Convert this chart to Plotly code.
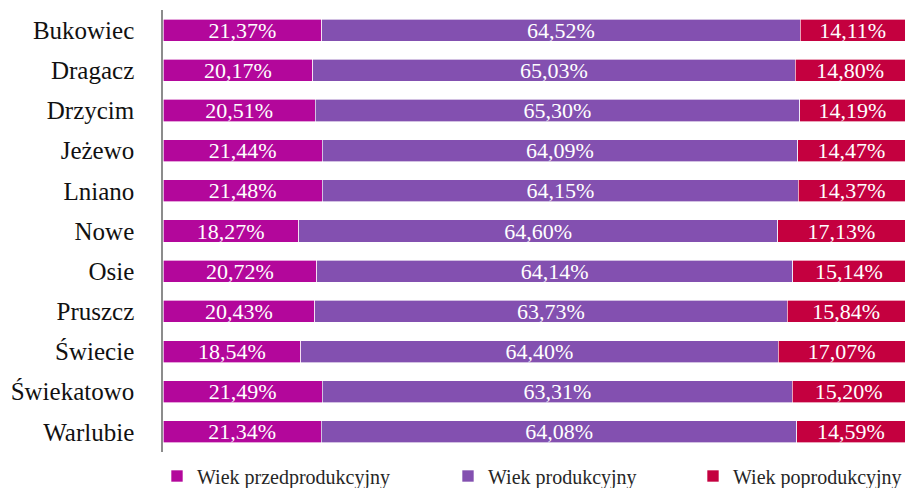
import plotly.graph_objects as go

gminy = ["Bukowiec", "Dragacz", "Drzycim", "Jeżewo", "Lniano", "Nowe", "Osie",
         "Pruszcz", "Świecie", "Świekatowo", "Warlubie"]
przed = [21.37, 20.17, 20.51, 21.44, 21.48, 18.27, 20.72, 20.43, 18.54, 21.49, 21.34]
prod = [64.52, 65.03, 65.30, 64.09, 64.15, 64.60, 64.14, 63.73, 64.40, 63.31, 64.08]
poprod = [14.11, 14.80, 14.19, 14.47, 14.37, 17.13, 15.14, 15.84, 17.07, 15.20, 14.59]
series_names = ["Wiek przedprodukcyjny", "Wiek produkcyjny", "Wiek poprodukcyjny"]
colors = ["#B3079B", "#8350B0", "#C4003F"]

FONT = "Liberation Serif, DejaVu Serif, serif"

def fmt(v):
    return f"{v:.2f}".replace(".", ",") + "%"

fig = go.Figure()
legends = ["legend", "legend2", "legend3"]
for vals, name, col, lg in zip([przed, prod, poprod], series_names, colors, legends):
    fig.add_trace(go.Bar(
        y=gminy, x=vals, name=name, orientation="h",
        marker=dict(color=col, line=dict(color="rgba(255,255,255,0.8)", width=0.8)),
        text=[fmt(v) for v in vals], textposition="inside", insidetextanchor="middle",
        textangle=0, constraintext="none",
        textfont=dict(family=FONT, size=22, color="white"),
        legend=lg, hoverinfo="skip",
    ))

W, H = 905, 488
ml, mr, mt, mb = 163, 0, 10, 36
pw = W - ml - mr
ph = H - mt - mb
leg_y = (H - mb - 476) / ph
leg_common = dict(orientation="h", yanchor="middle", y=leg_y, xanchor="left",
                  font=dict(family=FONT, size=20, color="#262626"),
                  bgcolor="rgba(0,0,0,0)", itemwidth=30)
fig.update_layout(
    width=W, height=H,
    margin=dict(l=ml, r=mr, t=mt, b=mb, autoexpand=False),
    barmode="stack", bargap=0.45,
    plot_bgcolor="white", paper_bgcolor="white",
    font=dict(family=FONT),
    xaxis=dict(range=[0, 100], visible=False, fixedrange=True),
    yaxis=dict(autorange="reversed", showline=True, linecolor="#8c8c8c", linewidth=1.5,
               ticks="", ticklabelstandoff=22, showgrid=False,
               tickfont=dict(family=FONT, size=25, color="#111")),
    legend=dict(**leg_common, x=(157 - ml) / pw),
    legend2=dict(**leg_common, x=(448 - ml) / pw),
    legend3=dict(**leg_common, x=(693 - ml) / pw),
    showlegend=True,
)
fig.write_html("out.html", config={"displayModeBar": False},
               post_script="document.body.style.margin='0';document.body.style.overflow='hidden';")
